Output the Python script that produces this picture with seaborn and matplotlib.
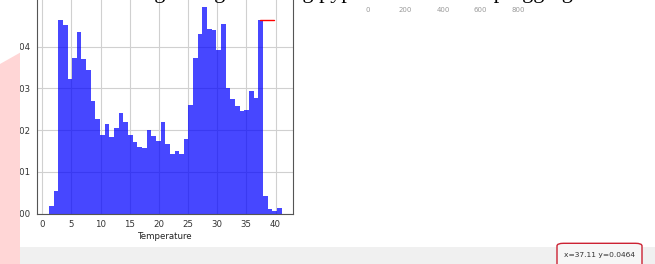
import numpy as np
import pandas as pd
import matplotlib.pyplot as plt
import seaborn as sns
from matplotlib.patches import Polygon, Rectangle, FancyBboxPatch

# Temperature histogram (density), 50 bins
bin_start = 1.14
bin_end = 41.03
density = [0.0018, 0.0053, 0.0464, 0.0452, 0.0322, 0.0372, 0.0435, 0.0371, 0.0344, 0.0269,
           0.0227, 0.0188, 0.0214, 0.0184, 0.0204, 0.0240, 0.0220, 0.0188, 0.0172, 0.0160,
           0.0158, 0.0200, 0.0185, 0.0174, 0.0220, 0.0166, 0.0142, 0.0149, 0.0142, 0.0178,
           0.0261, 0.0373, 0.0430, 0.0495, 0.0442, 0.0441, 0.0392, 0.0454, 0.0300, 0.0275,
           0.0257, 0.0245, 0.0249, 0.0293, 0.0277, 0.0464, 0.0042, 0.0010, 0.0005, 0.0014]
# red cursor line at the top
cursor_x = [37.3, 39.7]
cursor_y = [0.0464, 0.0464]
cursor_text = "x=37.11 y=0.0464"
# tick labels of the other plot above (cut off)
top_ticks = [0, 200, 400, 600, 800]

edges = np.linspace(bin_start, bin_end, len(density) + 1)
df = pd.DataFrame({'Temperature': (edges[:-1] + edges[1:]) / 2, 'density': density})

sns.set_style("white")
plt.rcParams['font.family'] = ['DejaVu Sans']

fig = plt.figure(figsize=(6.55, 2.64), dpi=100)
ax = fig.add_axes([37 / 655, 50.5 / 264, 256 / 655, 216.8 / 264])

sns.histplot(data=df, x='Temperature', weights='density', bins=edges.tolist(), stat='count',
             color='blue', alpha=0.72, linewidth=0, ax=ax)
ax.plot(cursor_x, cursor_y, color='red', linewidth=1)

ax.set_ylim(0, 0.052)
ax.set_xlim(-0.9, 43.0)
ax.set_xticks(range(0, 45, 5))
ax.set_yticks([0.0, 0.01, 0.02, 0.03, 0.04])
ax.set_yticklabels(['0.00', '0.01', '0.02', '0.03', '0.04'])
ax.grid(True, color='#d0d0d0', linewidth=0.8)
ax.set_axisbelow(True)
ax.tick_params(labelsize=6.2, length=2.5, width=0.6, pad=2, colors='#333333')
ax.set_xlabel('Temperature', fontsize=6.2, labelpad=2, color='#222222')
ax.set_ylabel('')
for s in ax.spines.values():
    s.set_color('#555555')
    s.set_linewidth(0.8)

# tick labels of the neighbouring plot, cut off at the top
ax2 = fig.add_axes([358.6 / 655, 1 - 6 / 264, 168.75 / 655, 0.3])
ax2.set_xlim(-50, 850)
ax2.set_xticks(top_ticks)
ax2.set_yticks([])
ax2.tick_params(labelsize=5, length=0, pad=1, colors='#9a9a9a')
for s in ax2.spines.values():
    s.set_visible(False)
ax2.patch.set_alpha(0)

# title of the page, mostly cut off
fig.text(95 / 655, 1 + 2 / 264, "Plotting histogram using pyplot and seaborn plugging", family='Liberation Serif',
         fontsize=16, va='baseline', ha='left', color='black')

# page decorations of the screenshot (left strip cut off, pink block)
fig.patches.append(Rectangle((0, 0), 20 / 655, 1, transform=fig.transFigure,
                             facecolor='white', edgecolor='none', zorder=3))
fig.patches.append(Polygon([(0, 1 - 64 / 264), (20 / 655, 1 - 52.7 / 264), (20 / 655, 0), (0, 0)],
                           closed=True, transform=fig.transFigure, facecolor='#ffd6d6',
                           edgecolor='none', zorder=3))
fig.patches.append(Rectangle((20 / 655, 0), 635 / 655, (264 - 246.7) / 264, transform=fig.transFigure,
                             facecolor='#f0f0f0', edgecolor='none', zorder=3))
fig.patches.append(FancyBboxPatch((557 / 655, -6 / 264), 85 / 655, 26.7 / 264,
                                  boxstyle='round,pad=0,rounding_size=0.01', transform=fig.transFigure,
                                  facecolor='#f6f6f6', edgecolor='#cc2233', linewidth=1, zorder=4))
fig.text(599.5 / 655, 9 / 264, cursor_text, fontsize=5.4, ha='center', va='center',
         color='#333333', zorder=5)

plt.savefig('out.png', dpi=100)
